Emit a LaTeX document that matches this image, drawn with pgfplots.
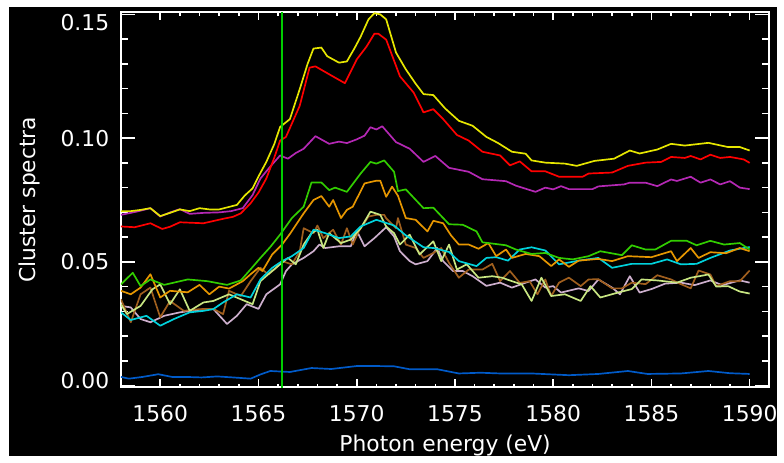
\documentclass[border=0pt]{standalone}
\usepackage{pgfplots}
\pgfplotsset{compat=1.18}
\usepackage{fontspec}
\setmainfont{DejaVu Sans}
\definecolor{cYel}{RGB}{230,230,0}
\definecolor{cRed}{RGB}{255,0,0}
\definecolor{cMag}{RGB}{180,40,180}
\definecolor{cGrn}{RGB}{50,205,0}
\definecolor{cOrg}{RGB}{230,150,0}
\definecolor{cBrn}{RGB}{160,95,30}
\definecolor{cPal}{RGB}{200,230,130}
\definecolor{cCyn}{RGB}{0,210,220}
\definecolor{cLil}{RGB}{205,175,205}
\definecolor{cBlu}{RGB}{0,90,200}
\definecolor{cVer}{RGB}{0,205,0}
\begin{document}
\begin{tikzpicture}
\fill[white] (0,0) rectangle (392pt,230pt);
\fill[black] (4.5pt,0pt) rectangle (392pt,226.5pt);
\begin{axis}[
  at={(61pt,34.65pt)}, anchor=south west,
  scale only axis, width=327pt, height=189.2pt,
  xmin=1558, xmax=1591, ymin=-0.0007, ymax=0.1509,
  xtick={1560,1565,...,1590}, minor x tick num=4,
  ytick={0,0.05,0.10,0.15}, minor y tick num=4,
  yticklabels={0.00,0.05,0.10,0.15},
  axis line style={white, line width=0.9pt},
  tick style={white, line width=0.8pt},
  major tick length=5pt, minor tick length=2.5pt,
  ytick style={/pgfplots/major tick length=7pt,/pgfplots/minor tick length=3.5pt},
  xtick style={/pgfplots/major tick length=4pt,/pgfplots/minor tick length=1.8pt},
  tick label style={font=\fontsize{11}{13}\selectfont, text=white},
  label style={font=\fontsize{11}{13}\selectfont, text=white},
  /pgf/number format/assume math mode=true,
  /pgf/number format/1000 sep={},
  yticklabel style={xshift=-2.4pt, yshift={ifthenelse(\ticknum==3,-4,ifthenelse(\ticknum==0,2.5,0))*1pt}},
  xticklabel style={yshift=-5.5pt},
  xlabel={Photon energy (eV)},
  ylabel={Cluster spectra},
  xlabel style={at={(axis description cs:0.5,0)}, anchor=north, yshift=-20.5pt},
  ylabel style={at={(axis description cs:0,0.5)}, anchor=center, yshift=46pt},
  every axis plot/.append style={line width=0.85pt, line join=round},
  clip=true,
]
\addplot[cBlu] coordinates {(1558.0,0.0035)(1558.4,0.0028)(1559.1,0.0035)(1559.9,0.0046)(1560.6,0.0035)(1561.3,0.0035)(1562.1,0.0033)(1562.9,0.0037)(1563.7,0.0033)(1564.6,0.0028)(1565.1,0.0045)(1565.6,0.0059)(1566.6,0.0055)(1567.7,0.0071)(1568.7,0.0067)(1570.0,0.0079)(1571.0,0.0079)(1571.9,0.0078)(1572.7,0.0066)(1574.1,0.0066)(1575.2,0.0049)(1576.3,0.0052)(1577.3,0.0049)(1578.9,0.0049)(1580.8,0.0042)(1582.3,0.0047)(1583.8,0.0059)(1584.8,0.0047)(1586.5,0.0049)(1587.9,0.0059)(1589.0,0.005)(1590.0,0.0047)};
\addplot[cLil] coordinates {(1558.0,0.0322)(1558.5,0.0316)(1559.0,0.0269)(1559.5,0.0256)(1560.2,0.0282)(1561.0,0.0296)(1561.8,0.0305)(1562.7,0.031)(1563.4,0.0249)(1563.9,0.0282)(1564.4,0.0329)(1565.0,0.031)(1565.4,0.0369)(1566.1,0.0409)(1566.4,0.0463)(1566.7,0.049)(1567.3,0.0516)(1567.8,0.0543)(1568.1,0.057)(1568.4,0.0556)(1569.1,0.0563)(1569.7,0.0563)(1570.0,0.0626)(1570.4,0.0563)(1570.9,0.0596)(1571.5,0.064)(1571.9,0.0603)(1572.2,0.0543)(1572.7,0.0503)(1573.0,0.049)(1573.6,0.0503)(1574.1,0.0556)(1574.4,0.0503)(1574.9,0.0463)(1575.4,0.0463)(1575.9,0.0442)(1576.6,0.0403)(1577.3,0.0416)(1577.9,0.0396)(1578.6,0.0416)(1579.1,0.0429)(1579.6,0.0396)(1580.0,0.0402)(1580.4,0.0376)(1581.3,0.0393)(1581.8,0.0382)(1582.3,0.0429)(1583.0,0.0396)(1583.4,0.0369)(1583.9,0.0442)(1584.4,0.0376)(1585.0,0.039)(1585.7,0.0412)(1586.5,0.0416)(1587.2,0.0406)(1588.0,0.0425)(1588.6,0.0406)(1589.5,0.0425)(1590.0,0.0416)};
\addplot[cBrn] coordinates {(1558.0,0.0349)(1558.5,0.0256)(1559.0,0.0369)(1559.5,0.0396)(1560.0,0.0276)(1560.5,0.0342)(1561.2,0.0302)(1562.0,0.0309)(1562.7,0.031)(1563.2,0.0289)(1563.5,0.0383)(1564.1,0.0362)(1564.6,0.0422)(1565.1,0.0476)(1565.5,0.0449)(1565.9,0.0476)(1566.2,0.0503)(1566.7,0.049)(1567.1,0.0543)(1567.3,0.0636)(1567.8,0.0616)(1568.0,0.0647)(1568.3,0.0596)(1568.8,0.063)(1569.2,0.057)(1569.5,0.0636)(1569.8,0.057)(1570.1,0.0623)(1570.6,0.0683)(1571.0,0.069)(1571.4,0.069)(1571.5,0.0676)(1572.0,0.0636)(1572.1,0.0677)(1572.5,0.057)(1573.0,0.0556)(1573.4,0.0516)(1573.9,0.0536)(1574.3,0.0556)(1574.7,0.0496)(1575.2,0.0436)(1575.7,0.0469)(1576.4,0.0469)(1576.9,0.0492)(1577.3,0.0422)(1577.8,0.0463)(1578.3,0.0415)(1578.8,0.0422)(1579.2,0.0369)(1579.6,0.0429)(1579.9,0.0362)(1580.3,0.0416)(1580.8,0.0436)(1581.4,0.0402)(1581.8,0.0429)(1582.3,0.043)(1583.0,0.0393)(1583.5,0.0393)(1584.0,0.0416)(1584.7,0.041)(1585.3,0.0446)(1586.0,0.0429)(1586.5,0.041)(1587.0,0.0393)(1587.4,0.0465)(1588.0,0.0449)(1588.3,0.0402)(1589.0,0.0422)(1589.5,0.0422)(1590.0,0.0465)};
\addplot[cPal] coordinates {(1558.0,0.0329)(1558.3,0.0289)(1559.0,0.0322)(1559.6,0.0389)(1560.0,0.0409)(1560.5,0.0329)(1561.0,0.0389)(1561.5,0.0302)(1562.2,0.0336)(1562.7,0.0342)(1563.5,0.0369)(1564.1,0.0349)(1564.7,0.0329)(1565.1,0.0422)(1565.5,0.045)(1566.1,0.049)(1566.5,0.0516)(1566.9,0.049)(1567.3,0.057)(1567.7,0.0616)(1568.0,0.063)(1568.3,0.0556)(1568.6,0.0616)(1569.2,0.0576)(1569.7,0.059)(1570.2,0.0636)(1570.7,0.0703)(1571.2,0.069)(1571.5,0.0643)(1571.9,0.0616)(1572.2,0.057)(1572.7,0.061)(1573.2,0.053)(1573.9,0.0583)(1574.3,0.0503)(1574.7,0.057)(1575.1,0.0469)(1575.6,0.049)(1576.2,0.0436)(1576.9,0.0442)(1577.4,0.0436)(1577.9,0.0422)(1578.4,0.0409)(1578.9,0.0342)(1579.4,0.0436)(1579.9,0.0362)(1580.6,0.0369)(1581.4,0.0342)(1581.9,0.0402)(1582.4,0.0356)(1583.3,0.0376)(1584.0,0.039)(1584.5,0.0429)(1585.3,0.0425)(1586.3,0.0416)(1587.0,0.0436)(1587.5,0.0443)(1587.9,0.0449)(1588.3,0.040)(1588.9,0.0402)(1589.5,0.038)(1590.0,0.0372)};
\addplot[cCyn] coordinates {(1558.0,0.0296)(1558.5,0.0265)(1559.3,0.0282)(1560.0,0.0242)(1560.7,0.0269)(1561.5,0.0296)(1562.2,0.0302)(1562.7,0.0309)(1563.2,0.0336)(1563.9,0.0369)(1564.6,0.0356)(1565.1,0.0429)(1565.7,0.0476)(1566.2,0.0503)(1566.7,0.0523)(1567.3,0.0556)(1567.8,0.063)(1568.4,0.0616)(1569.1,0.0596)(1569.7,0.0603)(1570.2,0.0643)(1571.0,0.067)(1571.9,0.0647)(1572.5,0.0607)(1573.4,0.0559)(1573.9,0.0556)(1574.7,0.054)(1575.2,0.0503)(1576.1,0.0483)(1576.6,0.0516)(1577.1,0.0519)(1577.7,0.0505)(1578.3,0.055)(1578.9,0.0559)(1579.6,0.0546)(1580.3,0.049)(1581.3,0.0505)(1582.3,0.0516)(1583.0,0.0476)(1584.0,0.0492)(1585.0,0.0492)(1585.8,0.051)(1586.5,0.049)(1587.3,0.0492)(1588.0,0.0516)(1589.0,0.0546)(1590.0,0.056)};
\addplot[cOrg] coordinates {(1558.0,0.0383)(1558.5,0.0369)(1559.0,0.0396)(1559.5,0.045)(1560.0,0.0356)(1560.5,0.0383)(1561.4,0.0377)(1562.0,0.0407)(1562.5,0.0369)(1563.0,0.040)(1563.5,0.0392)(1564.2,0.0422)(1564.6,0.045)(1565.0,0.0476)(1565.2,0.0463)(1565.7,0.053)(1566.2,0.057)(1566.6,0.0613)(1567.3,0.0696)(1567.8,0.075)(1568.2,0.0766)(1568.6,0.0723)(1568.8,0.075)(1569.2,0.0677)(1569.5,0.071)(1569.8,0.0723)(1570.4,0.0817)(1571.0,0.0828)(1571.2,0.0828)(1571.5,0.0763)(1571.8,0.0804)(1572.1,0.0767)(1572.5,0.0677)(1573.0,0.067)(1573.6,0.0623)(1573.9,0.0666)(1574.4,0.0656)(1574.8,0.0607)(1575.2,0.057)(1575.7,0.057)(1576.2,0.0553)(1576.7,0.0576)(1577.1,0.0523)(1577.6,0.055)(1577.9,0.0516)(1578.6,0.0532)(1579.3,0.0523)(1579.9,0.0483)(1580.3,0.051)(1580.8,0.048)(1581.3,0.0505)(1582.3,0.0512)(1583.0,0.0503)(1583.8,0.0523)(1585.0,0.0519)(1586.0,0.0543)(1586.3,0.0503)(1587.0,0.0556)(1587.4,0.0516)(1588.0,0.0539)(1588.8,0.0535)(1589.5,0.0556)(1590.0,0.0543)};
\addplot[cGrn] coordinates {(1558.0,0.0409)(1558.6,0.0456)(1559.0,0.0402)(1559.5,0.0429)(1560.2,0.0407)(1561.4,0.0429)(1562.4,0.0422)(1563.4,0.0407)(1564.1,0.0425)(1564.6,0.047)(1565.1,0.0516)(1565.6,0.056)(1566.1,0.061)(1566.7,0.0677)(1567.3,0.0723)(1567.7,0.0821)(1568.2,0.0821)(1568.6,0.079)(1568.9,0.080)(1569.5,0.0783)(1570.2,0.0857)(1570.7,0.0904)(1571.0,0.0897)(1571.4,0.091)(1571.9,0.0864)(1572.1,0.0786)(1572.5,0.0793)(1573.4,0.0717)(1573.9,0.0719)(1574.7,0.0652)(1575.4,0.065)(1576.1,0.0623)(1576.4,0.0579)(1577.6,0.0567)(1578.1,0.055)(1578.9,0.0532)(1579.6,0.0536)(1580.3,0.0516)(1581.0,0.051)(1581.8,0.0523)(1582.4,0.0543)(1583.5,0.0527)(1584.0,0.0567)(1584.7,0.055)(1585.2,0.055)(1586.0,0.0585)(1586.8,0.0585)(1587.3,0.0567)(1588.0,0.0585)(1588.7,0.057)(1589.5,0.0576)(1590.0,0.055)};
\addplot[cMag] coordinates {(1558.0,0.069)(1558.8,0.0703)(1559.5,0.0717)(1560.0,0.0683)(1560.5,0.070)(1561.0,0.0713)(1561.5,0.0694)(1562.2,0.0698)(1563.0,0.070)(1563.6,0.0705)(1564.2,0.0717)(1564.7,0.077)(1565.1,0.0837)(1565.6,0.0885)(1566.1,0.093)(1566.5,0.0917)(1566.9,0.094)(1567.3,0.0957)(1567.9,0.1008)(1568.6,0.0977)(1569.1,0.0986)(1569.5,0.098)(1570.0,0.0995)(1570.4,0.101)(1570.7,0.1044)(1571.0,0.1035)(1571.3,0.1048)(1572.0,0.0984)(1572.7,0.0957)(1573.4,0.0904)(1574.0,0.0928)(1574.7,0.088)(1575.7,0.0864)(1576.4,0.0834)(1577.6,0.0826)(1578.1,0.0808)(1579.1,0.0783)(1579.6,0.080)(1580.0,0.0793)(1580.4,0.0806)(1580.8,0.0794)(1582.0,0.0794)(1582.3,0.0805)(1583.6,0.0813)(1583.9,0.082)(1584.7,0.082)(1585.3,0.0806)(1586.0,0.0833)(1586.3,0.0827)(1587.0,0.0844)(1587.5,0.082)(1588.0,0.0833)(1588.5,0.0813)(1589.0,0.0826)(1589.5,0.080)(1590.0,0.0794)};
\addplot[cRed] coordinates {(1558.0,0.0643)(1558.7,0.064)(1559.5,0.0656)(1560.1,0.0633)(1560.5,0.0642)(1561.0,0.066)(1562.2,0.0656)(1563.2,0.0674)(1563.7,0.0682)(1564.1,0.0696)(1564.6,0.0737)(1565.0,0.078)(1565.4,0.0837)(1565.8,0.092)(1566.1,0.099)(1566.4,0.1005)(1567.1,0.1131)(1567.6,0.1285)(1567.9,0.129)(1568.6,0.1258)(1569.4,0.1222)(1570.0,0.1318)(1570.5,0.137)(1570.9,0.1422)(1571.1,0.1422)(1571.5,0.1398)(1572.2,0.125)(1572.9,0.1184)(1573.4,0.1104)(1573.9,0.1117)(1574.4,0.1077)(1575.1,0.1013)(1575.7,0.099)(1576.4,0.0945)(1577.3,0.093)(1577.8,0.089)(1578.3,0.0906)(1578.9,0.0866)(1579.6,0.0866)(1580.3,0.0844)(1581.5,0.0844)(1581.8,0.0857)(1583.0,0.0861)(1583.8,0.0888)(1584.7,0.0901)(1585.5,0.0904)(1586.0,0.0924)(1586.7,0.092)(1587.0,0.0928)(1587.5,0.0914)(1588.0,0.0933)(1588.5,0.092)(1589.0,0.0924)(1589.7,0.0914)(1590.0,0.090)};
\addplot[cYel] coordinates {(1558.0,0.0705)(1558.5,0.0705)(1559.0,0.071)(1559.5,0.0717)(1560.0,0.0685)(1560.5,0.0698)(1561.0,0.0712)(1561.5,0.0705)(1562.0,0.0717)(1562.5,0.0712)(1563.0,0.0712)(1563.5,0.0722)(1563.9,0.073)(1564.3,0.0768)(1564.7,0.0797)(1565.0,0.0845)(1565.4,0.0904)(1565.8,0.0975)(1566.1,0.1045)(1566.6,0.1077)(1567.1,0.1198)(1567.5,0.130)(1567.8,0.1362)(1568.2,0.1366)(1568.5,0.1331)(1569.1,0.1305)(1569.5,0.131)(1569.9,0.1365)(1570.2,0.141)(1570.6,0.148)(1570.9,0.1505)(1571.2,0.150)(1571.5,0.148)(1572.0,0.1346)(1572.5,0.1278)(1573.0,0.122)(1573.4,0.1178)(1573.9,0.1174)(1574.5,0.112)(1575.2,0.107)(1575.9,0.105)(1576.6,0.1005)(1577.2,0.098)(1577.9,0.0945)(1578.6,0.0937)(1578.9,0.091)(1579.6,0.0901)(1580.6,0.0897)(1581.2,0.0888)(1582.1,0.0908)(1583.1,0.0917)(1583.9,0.095)(1584.4,0.0938)(1585.3,0.0954)(1586.0,0.0977)(1586.7,0.097)(1587.9,0.0981)(1588.9,0.0964)(1589.5,0.0964)(1590.0,0.095)};
\addplot[cVer, line width=0.9pt] coordinates {(1566.2,-0.002) (1566.2,0.152)};
\end{axis}
\end{tikzpicture}
\end{document}
